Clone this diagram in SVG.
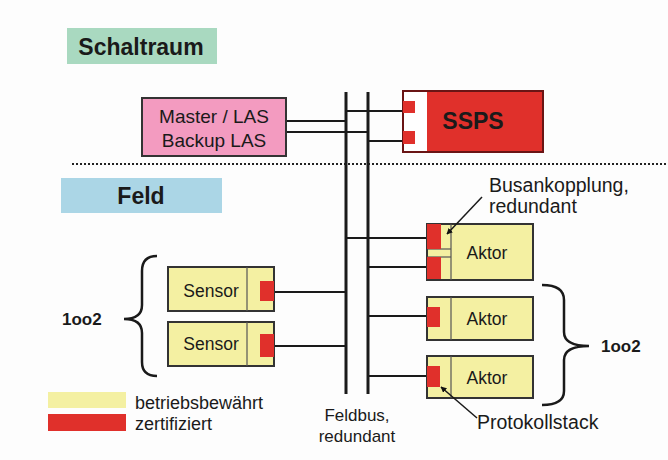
<svg xmlns="http://www.w3.org/2000/svg" width="668" height="460" viewBox="0 0 668 460">
<defs>
<marker id="arr" viewBox="0 0 10 10" refX="9" refY="5" markerWidth="6" markerHeight="6" orient="auto-start-reverse" markerUnits="userSpaceOnUse">
<path d="M0,0 L10,5 L0,10 z" fill="#111"/>
</marker>
<style>
text{font-family:"Liberation Sans",Arial,sans-serif;fill:#1a1a1a}
.b{font-weight:bold}
.y{fill:#f4f0a2;stroke:#333;stroke-width:2}
.yi{fill:none;stroke:#555;stroke-width:1.2}
.r{fill:#e0302b}
.bus{stroke:#1a1a1a;stroke-width:3;fill:none}
.w{stroke:#1a1a1a;stroke-width:2;fill:none}
.br{stroke:#1a1a1a;stroke-width:2.5;fill:none}
.ptr{stroke:#1a1a1a;stroke-width:1.5;fill:none}
</style>
</defs>
<rect width="668" height="460" fill="#fdfdfd"/>

<g id="schaltraum">
<rect x="67" y="28" width="150" height="36" fill="#a9d9c0"/>
<text x="141" y="55" font-size="23" class="b" text-anchor="middle">Schaltraum</text>
</g>
<g id="feld">
<rect x="61" y="178" width="161" height="35" fill="#abd6e6"/>
<text x="141" y="204" font-size="23" class="b" text-anchor="middle">Feld</text>
</g>

<line x1="72" y1="164" x2="668" y2="164" stroke="#222" stroke-width="2" stroke-dasharray="2 2"/>

<g id="connectors">
<line class="bus" x1="346" y1="92" x2="346" y2="394"/>
<line class="bus" x1="368" y1="92" x2="368" y2="394"/>
<line class="w" x1="286" y1="121" x2="346" y2="121"/>
<line class="w" x1="286" y1="132" x2="368" y2="132"/>
<line class="w" x1="346" y1="111" x2="403" y2="111"/>
<line class="w" x1="368" y1="141" x2="403" y2="141"/>
<line class="w" x1="274" y1="292" x2="346" y2="292"/>
<line class="w" x1="274" y1="346" x2="346" y2="346"/>
<line class="w" x1="346" y1="238" x2="427" y2="238"/>
<line class="w" x1="368" y1="267" x2="427" y2="267"/>
<line class="w" x1="368" y1="316" x2="427" y2="316"/>
<line class="w" x1="368" y1="376" x2="427" y2="376"/>
</g>

<g id="master">
<rect x="142" y="98" width="144" height="58" fill="#f39bc0" stroke="#333" stroke-width="2"/>
<text x="214" y="123" font-size="19" text-anchor="middle">Master / LAS</text>
<text x="214" y="147" font-size="19" text-anchor="middle">Backup LAS</text>
</g>

<g id="ssps">
<rect x="403" y="91" width="140" height="61" fill="#e0302b" stroke="#6a1515" stroke-width="2"/>
<rect x="404" y="92" width="23" height="59" fill="#fff"/>
<rect x="403" y="101" width="12" height="12" class="r"/>
<rect x="403" y="131" width="12" height="13" class="r"/>
<text x="473" y="129" font-size="23" class="b" text-anchor="middle">SSPS</text>
</g>

<g id="sensor1">
<rect x="168" y="267" width="106" height="44" class="y"/>
<line x1="247" y1="267" x2="247" y2="311" class="yi"/>
<rect x="260" y="281" width="14" height="20" class="r"/>
<text x="211" y="297" font-size="17.5" text-anchor="middle">Sensor</text>
</g>
<g id="sensor2">
<rect x="168" y="322" width="106" height="44" class="y"/>
<line x1="247" y1="322" x2="247" y2="366" class="yi"/>
<rect x="260" y="334" width="14" height="23" class="r"/>
<text x="211" y="350" font-size="17.5" text-anchor="middle">Sensor</text>
</g>

<g id="aktor1">
<rect x="427" y="224" width="106" height="56" class="y"/>
<line x1="451" y1="224" x2="451" y2="280" class="yi"/>
<line x1="427" y1="249" x2="451" y2="249" class="yi"/>
<line x1="427" y1="257" x2="451" y2="257" class="yi"/>
<rect x="427" y="224" width="14" height="25" class="r"/>
<rect x="427" y="257" width="14" height="22" class="r"/>
<text x="487" y="259" font-size="17.5" text-anchor="middle">Aktor</text>
</g>
<g id="aktor2">
<rect x="427" y="297" width="106" height="43" class="y"/>
<line x1="451" y1="297" x2="451" y2="340" class="yi"/>
<rect x="427" y="307" width="13" height="20" class="r"/>
<text x="487" y="325" font-size="17.5" text-anchor="middle">Aktor</text>
</g>
<g id="aktor3">
<rect x="427" y="356" width="106" height="42" class="y"/>
<line x1="451" y1="356" x2="451" y2="398" class="yi"/>
<rect x="427" y="366" width="13" height="21" class="r"/>
<text x="487" y="384" font-size="17.5" text-anchor="middle">Aktor</text>
</g>

<g id="busankopplung">
<line class="ptr" x1="482" y1="197" x2="447" y2="234" marker-end="url(#arr)"/>
<text x="489" y="192" font-size="19.5">Busankopplung,</text>
<text x="489" y="213" font-size="19.5">redundant</text>
</g>
<g id="protokollstack">
<line class="ptr" x1="477" y1="418" x2="441" y2="387" marker-end="url(#arr)"/>
<text x="477" y="429" font-size="19.5">Protokollstack</text>
</g>

<g id="feldbus">
<text x="357" y="421" font-size="17" text-anchor="middle">Feldbus,</text>
<text x="357" y="442" font-size="17" text-anchor="middle">redundant</text>
</g>

<g id="brace-left">
<path class="br" d="M157,256 Q142,256 142,271 L142,305 Q142,319 124,319 Q142,319 142,333 L142,362 Q142,376 157,376"/>
<text x="62" y="325" font-size="17" class="b">1oo2</text>
</g>
<g id="brace-right">
<path class="br" d="M542,285 Q564,285 564,300 L564,332 Q564,346 589,346 Q564,346 564,360 L564,391 Q564,405 542,405"/>
<text x="601" y="352" font-size="17" class="b">1oo2</text>
</g>

<g id="legend">
<rect x="48" y="392" width="78" height="16" fill="#f4f0a2"/>
<rect x="48" y="414" width="78" height="17" fill="#e0302b"/>
<text x="135" y="409" font-size="18">betriebsbewährt</text>
<text x="135" y="430" font-size="18">zertifiziert</text>
</g>
</svg>
